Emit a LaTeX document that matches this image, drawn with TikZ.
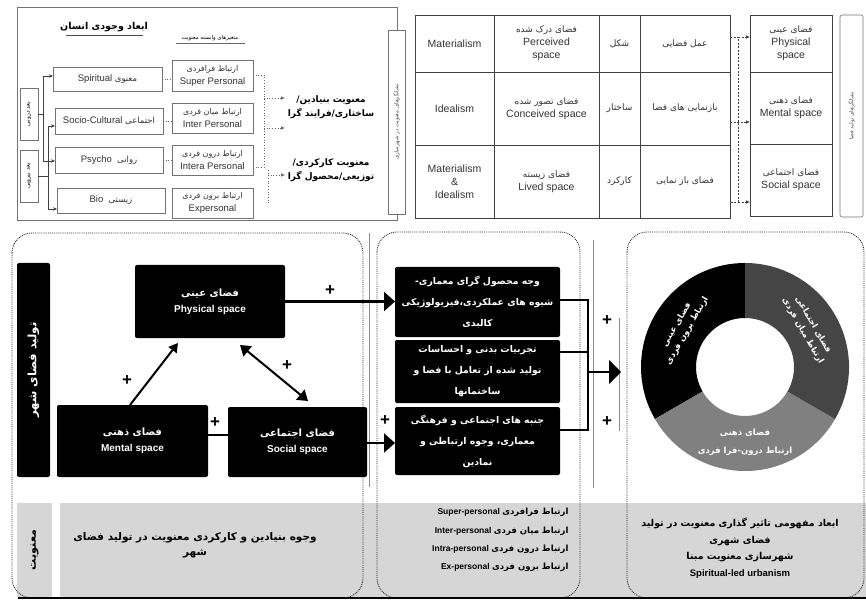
\documentclass[tikz,border=0pt]{standalone}
\usepackage{fontspec}
\setmainfont{Liberation Sans}
\newfontfamily\arabicfont[Script=Arabic]{DejaVu Sans}
\newfontfamily\arabicbf[Script=Arabic]{DejaVu Sans Bold}
\TeXXeTstate=1
\usetikzlibrary{arrows.meta}
\newcommand\pe[1]{{\arabicfont\beginR #1\endR}}
\newcommand\peb[1]{{\arabicbf\beginR #1\endR}}
\newcommand\fs[2]{\fontsize{#1}{#2}\selectfont}
\newcommand\bx[7][]{%
  \pgfmathsetmacro\bxCX{(#3+#5)/2}\pgfmathsetmacro\bxCY{(#4+#6)/2}%
  \pgfmathsetmacro\bxW{#5-#3}\pgfmathsetmacro\bxH{#6-#4}%
  \node[inner sep=0pt, outer sep=0pt, minimum width=\bxW pt, minimum height=\bxH pt, #1] (#2) at (\bxCX,\bxCY) {#7};}
\begin{document}
\begin{tikzpicture}[x=1pt,y=-1pt,
  tbox/.style={draw=black!55, fill=white, line width=0.6pt, align=center, text=black!80, font=\fs{9.5}{13}},
  dbox/.style={draw=black!60, double=white, double distance=1.4pt, line width=0.6pt, fill=white, align=center, font=\fs{9}{14}},
  rbox/.style={draw=black!75, line width=0.9pt, align=center, text=black!80, font=\fs{10.5}{13}},
  cell/.style={align=center, text=black!80, font=\fs{10.5}{13}},
  blk/.style={fill=black, rounded corners=2pt, text=white, align=center, font=\bfseries\fs{10}{16}},
  blkm/.style={fill=black, rounded corners=2pt, text=white, align=center, font=\fs{9.3}{21}},
  band/.style={fill=black!16},
  conn/.style={draw=black!75, line width=0.8pt},
  arr/.style={conn, -{Stealth[length=4pt,width=3.5pt]}},
  dotl/.style={draw=black!60, line width=0.7pt, dotted},
  dotarr/.style={dotl, -{Latex[length=4pt,width=3.5pt]}},
  dashl/.style={draw=black!75, line width=0.7pt, dashed, dash pattern=on 2pt off 1.5pt},
  dasharr/.style={dashl, -{Latex[length=4pt,width=3.5pt]}},
  frame/.style={draw=black!85, line width=0.9pt, densely dotted, rounded corners=20pt},
  thk/.style={draw=black, line width=2.2pt},
  plus/.style={font=\bfseries\fs{17}{17}, inner sep=0pt},
  vline/.style={draw=black!45, line width=1pt}]
\useasboundingbox (0,0) rectangle (866,601);

% ================= top left panel =================
\draw[black!55, line width=0.7pt] (17,7) rectangle (397,220);
\node[font=\fs{9.5}{11}] (ttl) at (104,27) {\peb{ابعاد وجودی انسان}};
\draw[black!70, line width=0.6pt] (66,35) -- (143,35);
\node[font=\fs{5.5}{6}] (sub) at (210,38) {\pe{متغیرهای وابسته معنویت}};
\draw[black!60, line width=0.4pt] (176,43) -- (245,43);

\bx[tbox]{spir}{53}{67}{162}{91}{Spiritual {\fs{8.5}{10}\pe{معنوی}}}
\bx[tbox]{soc}{55}{108}{163}{134}{Socio-Cultural {\fs{8.5}{10}\pe{اجتماعی}}}
\bx[tbox]{psy}{55}{147}{163}{173}{Psycho\ \ {\fs{8.5}{10}\pe{روانی}}}
\bx[tbox]{bio}{57}{188}{165}{213}{Bio\ \ {\fs{8.5}{10}\pe{زیستی}}}

\bx[tbox]{sup}{172}{60}{253}{91}{{\fs{8}{10}\pe{ارتباط فرافردی}}\\Super Personal}
\bx[tbox]{int}{172}{103}{253}{133}{{\fs{8}{10}\pe{ارتباط میان فردی}}\\Inter Personal}
\bx[tbox]{itr}{172}{145}{253}{175}{{\fs{8}{10}\pe{ارتباط درون فردی}}\\Intera Personal}
\bx[tbox]{exp}{172}{188}{253}{218}{{\fs{8}{10}\pe{ارتباط برون فردی}}\\Expersonal}

\bx[tbox]{indim}{20}{88}{38}{140}{}
\node[rotate=90, font=\fs{6}{7}] at (indim) {\pe{بعد درونی}};
\bx[tbox]{outdim}{20}{150}{38}{202}{}
\node[rotate=90, font=\fs{6}{7}] at (outdim) {\pe{بعد بیرونی}};

\coordinate (b1) at (43,76); \coordinate (b2) at (43,161);
\coordinate (b3) at (48,126); \coordinate (b4) at (48,209);
\draw[conn] (b1) -- (b2);
\draw[conn] (b3) -- (b4);
\draw[conn] (indim.east) -- (indim.east -| b1);
\draw[conn] (outdim.east) -- (outdim.east -| b3);
\draw[arr] (b1) -- (spir.west |- b1);
\draw[arr] (b2) -- (psy.west |- b2);
\draw[arr] (b3) -- (soc.west |- b3);
\draw[arr] (b4) -- (bio.west |- b4);

\draw[dotl] (spir.east) -- (sup.west |- spir.east);
\draw[dotl] (soc.east) -- (int.west |- soc.east);
\draw[dotl] (psy.east) -- (itr.west |- psy.east);

\bx[dbox]{m1}{285}{78}{377}{137}{\peb{معنویت بنیادین/}\\\peb{ساختاری/فرایند گرا}}
\bx[dbox]{m2}{285}{142}{377}{199}{\peb{معنویت کارکردی/}\\\peb{توزیعی/محصول گرا}}

\coordinate (d1) at (264,75); \coordinate (d2) at (264,167);
\coordinate (a1) at (264,98); \coordinate (a2) at (264,128);
\coordinate (d3) at (268,170); \coordinate (d4) at (268,205); \coordinate (a3) at (268,175);
\draw[dotl] (sup.east |- d1) -- (d1) -- (d2) -- (itr.east |- d2);
\draw[dotl] (d3) -- (d4);
\draw[dotarr] (a1) -- (m1.west |- a1);
\draw[dotarr] (a2) -- (m1.west |- a2);
\draw[dotarr] (a3) -- (m2.west |- a3);

\bx[tbox]{vb1}{388}{30}{405}{214}{}
\node[rotate=90, font=\fs{5.5}{6}, text=black!70] at (vb1) {\pe{نشانگرهای معنویت در شهرسازی}};

% ================= top right table =================
\bx[draw=black!75, line width=0.8pt]{tbl}{415}{15}{730}{218}{}
\draw[black!75, line width=0.8pt] (415,72) -- (730,72) (415,145) -- (730,145)
  (494,15) -- (494,218) (599,15) -- (599,218) (640,15) -- (640,218);
\node[cell] (c11) at (454.5,43.5) {Materialism};
\node[cell] (c21) at (454.5,108.5) {Idealism};
\node[cell] (c31) at (454.5,181.5) {Materialism\\\&\\Idealism};
\node[cell] (c12) at (546.5,43.5) {{\fs{9}{12}\pe{فضای درک شده}}\\Perceived\\space};
\node[cell] (c22) at (546.5,108.5) {{\fs{9}{12}\pe{فضای تصور شده}}\\Conceived space};
\node[cell] (c32) at (546.5,181.5) {{\fs{9}{12}\pe{فضای زیسته}}\\Lived space};
\node[cell, font=\fs{9}{12}] (c13) at (619.5,43.5) {\pe{شکل}};
\node[cell, font=\fs{9}{12}] (c23) at (619.5,108.5) {\pe{ساختار}};
\node[cell, font=\fs{9}{12}] (c33) at (619.5,181.5) {\pe{کارکرد}};
\node[cell, font=\fs{9}{12}] (c14) at (685,43.5) {\pe{عمل فضایی}};
\node[cell, font=\fs{9}{12}] (c24) at (685,108.5) {\pe{بازنمایی های فضا}};
\node[cell, font=\fs{9}{12}] (c34) at (685,181.5) {\pe{فضای باز نمایی}};

\bx[rbox]{ps}{750}{15}{832}{72}{{\fs{9}{12}\pe{فضای عینی}}\\Physical\\space}
\bx[rbox]{ms}{750}{72}{832}{144}{{\fs{9}{12}\pe{فضای ذهنی}}\\Mental space}
\bx[rbox]{ss}{750}{144}{832}{216}{{\fs{9}{12}\pe{فضای اجتماعی}}\\Social space}

\coordinate (e1) at (738,37); \coordinate (e2) at (738,202); \coordinate (e3) at (738,122);
\draw[dashl] (tbl.east |- e1) -- (e1) -- (e2) -- (tbl.east |- e2);
\draw[dasharr] (e1) -- (ps.west |- e1);
\draw[dasharr] (tbl.east |- e3) -- (ms.west |- e3);
\draw[dasharr] (e2) -- (ss.west |- e2);

\bx[tbox, rounded corners=2pt]{vb2}{840}{15}{863}{217}{}
\node[rotate=90, font=\fs{5.5}{6}, text=black!70] at (vb2) {\pe{نشانگرهای تولید فضا}};

% ================= bottom =================
\bx[band]{bandL}{17}{503}{52}{597}{}
\bx[band]{bandM}{60}{503}{866}{597}{}
\node[rotate=90, font=\fs{11}{12}] at (bandL) {\peb{معنویت}};

\draw[frame] (12,233) rectangle (363,598);
\draw[frame] (377,232) rectangle (580,598);
\draw[frame] (627,232) rectangle (864,598);
\draw[black, line width=2pt] (18,598) -- (866,598);

\draw[vline] (369,233) -- (369,487);
\draw[vline] (593,240) -- (593,488);
\draw[vline] (619,318) -- (619,431);

\bx[blk]{tol}{17}{263}{50}{477}{}
\node[rotate=90, text=white, font=\fs{11.5}{12}] at (tol) {\peb{تولید فضای شهر}};
\bx[blk]{phy}{135}{265}{285}{338}{\peb{فضای عینی}\\Physical space}
\bx[blk]{men}{57}{405}{208}{477}{\peb{فضای ذهنی}\\Mental space}
\bx[blk]{soc2}{228}{407}{367}{477}{\peb{فضای اجتماعی}\\Social space}

\bx[blkm]{v1}{395}{267}{560}{337}{\peb{وجه محصول گرای معماری-}\\\peb{شیوه های عملکردی،فیزیولوژیکی}\\\peb{کالبدی}}
\bx[blkm]{v2}{395}{340}{560}{403}{\peb{تجربیات بدنی و احساسات}\\\peb{تولید شده از تعامل با فضا و}\\\peb{ساختمانها}}
\bx[blkm]{v3}{395}{407}{560}{475}{\peb{جنبه های اجتماعی و فرهنگی}\\\peb{معماری، وجوه ارتباطی و}\\\peb{نمادین}}

% arrows in left frame
\coordinate (g1) at (130,405); \coordinate (g2) at (178,343);
\draw[draw=black, line width=2pt, -{Triangle[length=9pt,width=10pt]}] (g1) -- (g2);
\coordinate (h1) at (240,345); \coordinate (h2) at (308,401);
\draw[draw=black, line width=2pt, {Triangle[length=10pt,width=13pt]}-{Triangle[length=10pt,width=13pt]}] (h1) -- (h2);
\draw[thk] (men.east |- 0,435) -- (soc2.west |- 0,435);
\draw[thk, -{Triangle[length=11pt,width=19pt]}] (phy.east) -- (v1.west |- phy.east);
\coordinate (k1) at (380,443);
\draw[thk, -{Triangle[length=11pt,width=19pt]}] (soc2.east |- k1) -- (v3.west |- k1);

\coordinate (j1) at (588,300); \coordinate (j2) at (588,430);
\coordinate (jm) at (588,352); \coordinate (j0) at (588,372); \coordinate (dw) at (621,372);
\draw[thk] (v1.east |- j1) -- (j1) -- (j2) -- (v3.east |- j2);
\draw[thk] (v2.east |- jm) -- (jm);
\draw[thk, -{Triangle[length=12pt,width=24pt]}] (j0) -- (dw);

\node[plus] (p1) at (127,381) {+};
\node[plus] (p2) at (287,366) {+};
\node[plus] (p3) at (215,423) {+};
\node[plus] (p4) at (330,291) {+};
\node[plus] (p5) at (385,421) {+};
\node[plus] (p6) at (607,321) {+};
\node[plus] (p7) at (607,422) {+};

% donut
\coordinate (dc) at (745,367);
\begin{scope}[shift={(dc)}, yscale=-1]
\fill[black] (90:104) arc[start angle=90, end angle=210, radius=104] -- (210:49) arc[start angle=210, end angle=90, radius=49] -- cycle;
\fill[black!50] (210:104) arc[start angle=210, end angle=330, radius=104] -- (330:49) arc[start angle=330, end angle=210, radius=49] -- cycle;
\fill[black!73] (-30:104) arc[start angle=-30, end angle=90, radius=104] -- (90:49) arc[start angle=90, end angle=-30, radius=49] -- cycle;
\end{scope}
\node[rotate=60, text=white, align=center, font=\fs{8.5}{12}] (t1) at (682,328) {\peb{فضای عینی}\\\peb{ارتباط برون فردی}};
\node[rotate=-60, text=white, align=center, font=\fs{8.5}{12}] (t2) at (808,328) {\peb{فضای اجتماعی}\\\peb{ارتباط میان فردی}};
\node[text=white, align=center, font=\fs{8.5}{18}] (t3) at (745,442) {\peb{فضای ذهنی}\\\peb{ارتباط درون-فرا فردی}};

% band texts
\node[align=center, font=\fs{10.5}{15}] (bt1) at (195,545) {\peb{وجوه بنیادین و کارکردی معنویت در تولید فضای}\\\peb{شهر}};
\node[anchor=east, font=\bfseries\fs{8.5}{10}] (l1) at (572,512) {Super-personal \peb{ارتباط فرافردی}};
\node[anchor=east, font=\bfseries\fs{8.5}{10}] (l2) at (572,531) {Inter-personal \peb{ارتباط میان فردی}};
\node[anchor=east, font=\bfseries\fs{8.5}{10}] (l3) at (572,549) {Intra-personal \peb{ارتباط درون فردی}};
\node[anchor=east, font=\bfseries\fs{8.5}{10}] (l4) at (572,567) {Ex-personal \peb{ارتباط برون فردی}};
\node[align=center, font=\bfseries\fs{9.5}{16.5}] (bt3) at (740,548) {\peb{ابعاد مفهومی تاثیر گذاری معنویت در تولید}\\\peb{فضای شهری}\\\peb{شهرسازی معنویت مبنا}\\Spiritual-led urbanism};
\end{tikzpicture}
\end{document}
